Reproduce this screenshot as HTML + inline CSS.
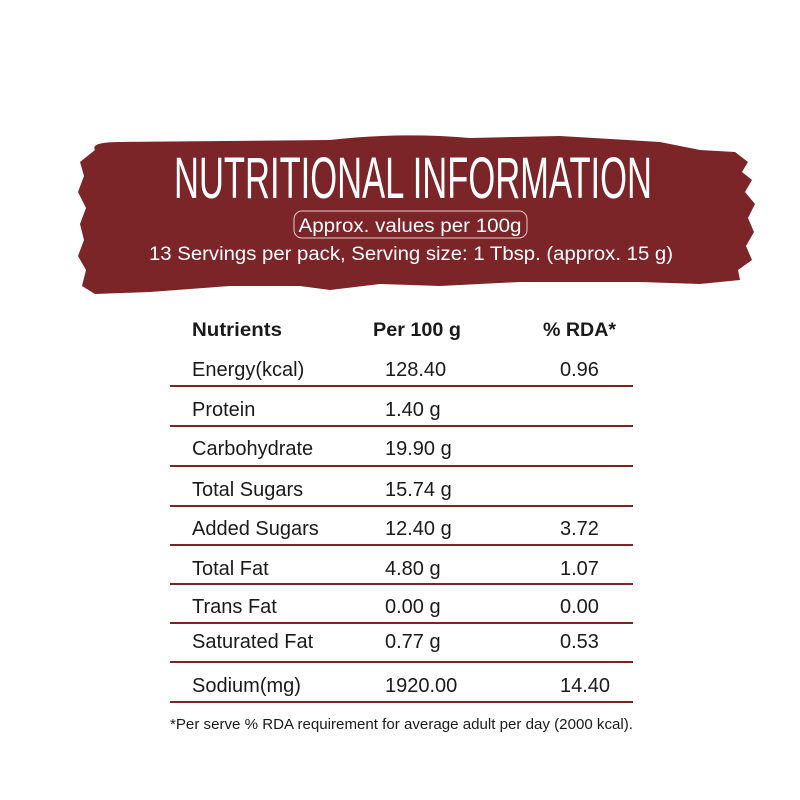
<!DOCTYPE html>
<html><head><meta charset="utf-8"><style>html,body{margin:0;padding:0;background:#fff}svg{display:block}</style></head><body>
<svg width="800" height="800" viewBox="0 0 800 800" xmlns="http://www.w3.org/2000/svg">
<path fill="#7b2529" d="M95 150 Q90 142 120 142 L330 140 Q400 132 470 138 L560 136 L660 142 L700 150 L735 152 L748 162 L742 172 L752 180 L745 192 L755 204 L748 218 L754 232 L746 246 L752 260 L738 270 L740 280 L700 284 L640 282 L520 282 L440 286 L380 284 L330 290 L300 286 L230 286 L150 292 L95 294 L82 286 L86 270 L78 256 L84 240 L80 224 L86 208 L78 192 L84 176 L80 162 Z"/>
<text x="413" y="198" text-anchor="middle" fill="#fff" font-family="Liberation Sans Narrow, Liberation Sans, sans-serif" font-size="58" textLength="478" lengthAdjust="spacingAndGlyphs">NUTRITIONAL INFORMATION</text>
<rect x="294" y="211" width="233" height="27" rx="8" fill="none" stroke="#e8c9c9" stroke-width="1"/>
<text x="410" y="232" text-anchor="middle" fill="#fff" font-family="Liberation Sans, sans-serif" font-size="19" textLength="223" lengthAdjust="spacingAndGlyphs">Approx. values per 100g</text>
<text x="411" y="260" text-anchor="middle" fill="#fff" font-family="Liberation Sans, sans-serif" font-size="19" textLength="524" lengthAdjust="spacingAndGlyphs">13 Servings per pack, Serving size: 1 Tbsp. (approx. 15 g)</text>
<g font-family="Liberation Sans, sans-serif" font-size="20" fill="#1a1a1a">
<g font-weight="bold" font-size="19">
<text x="192" y="336" textLength="90" lengthAdjust="spacingAndGlyphs">Nutrients</text>
<text x="373" y="336" textLength="88" lengthAdjust="spacingAndGlyphs">Per 100 g</text>
<text x="543" y="336" textLength="73" lengthAdjust="spacingAndGlyphs">% RDA*</text>
</g>
<text x="192" y="376">Energy(kcal)</text><text x="385" y="376">128.40</text><text x="560" y="376">0.96</text>
<text x="192" y="416">Protein</text><text x="385" y="416">1.40 g</text>
<text x="192" y="455">Carbohydrate</text><text x="385" y="455">19.90 g</text>
<text x="192" y="496">Total Sugars</text><text x="385" y="496">15.74 g</text>
<text x="192" y="535">Added Sugars</text><text x="385" y="535">12.40 g</text><text x="560" y="535">3.72</text>
<text x="192" y="575">Total Fat</text><text x="385" y="575">4.80 g</text><text x="560" y="575">1.07</text>
<text x="192" y="613">Trans Fat</text><text x="385" y="613">0.00 g</text><text x="560" y="613">0.00</text>
<text x="192" y="648">Saturated Fat</text><text x="385" y="648">0.77 g</text><text x="560" y="648">0.53</text>
<text x="192" y="692">Sodium(mg)</text><text x="385" y="692">1920.00</text><text x="560" y="692">14.40</text>
</g>
<g stroke="#7b2529" stroke-width="2">
<line x1="170" y1="386" x2="633" y2="386"/><line x1="170" y1="426" x2="633" y2="426"/>
<line x1="170" y1="466" x2="633" y2="466"/><line x1="170" y1="506" x2="633" y2="506"/>
<line x1="170" y1="545" x2="633" y2="545"/><line x1="170" y1="584" x2="633" y2="584"/>
<line x1="170" y1="623" x2="633" y2="623"/><line x1="170" y1="662" x2="633" y2="662"/>
<line x1="170" y1="702" x2="633" y2="702"/>
</g>
<text x="170" y="729" font-family="Liberation Sans, sans-serif" font-size="15" fill="#1a1a1a" textLength="463" lengthAdjust="spacingAndGlyphs">*Per serve % RDA requirement for average adult per day (2000 kcal).</text>
</svg>
</body></html>
